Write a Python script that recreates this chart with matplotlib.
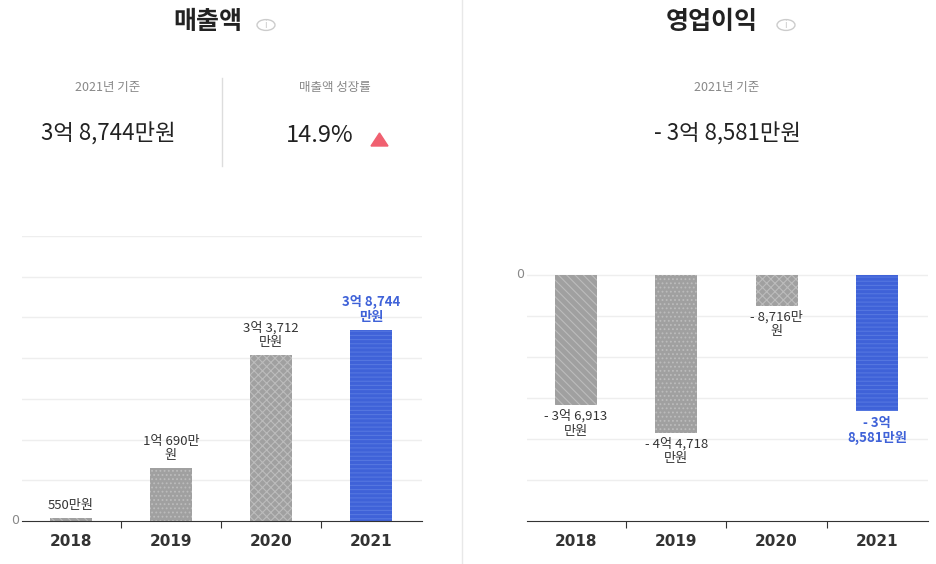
import matplotlib
matplotlib.use("Agg")
import matplotlib.pyplot as plt
from matplotlib.patches import Circle, Polygon
from matplotlib.lines import Line2D

plt.rcParams['font.family'] = ['Noto Sans CJK KR', 'Noto Sans CJK JP', 'Noto Sans CJK SC', 'DejaVu Sans']
plt.rcParams['hatch.linewidth'] = 0.8

years = ['2018', '2019', '2020', '2021']
sales = [550, 10690, 33712, 38744]
sales_labels = ['550만원', '1억 690만\n원', '3억 3,712\n만원', '3억 8,744\n만원']
profit = [-36913, -44718, -8716, -38581]
profit_labels = ['- 3억 6,913\n만원', '- 4억 4,718\n만원', '- 8,716만\n원', '- 3억\n8,581만원']
hatches = ['\\\\\\\\', '....', 'xxxx', '----']
grey = '#a0a0a0'
blue = '#3f62d8'

W, H = 936, 564
fig = plt.figure(figsize=(W/100, H/100), dpi=100)

def fx(x): return x / W
def fy(y): return 1 - y / H

def txt(x, y, s, **kw):
    fig.text(fx(x), fy(y), s, ha=kw.pop('ha', 'center'), va=kw.pop('va', 'center'), **kw)

txt(208, 22, '매출액', fontsize=18, fontweight='bold', color='#222222')
txt(712, 22, '영업이익', fontsize=18, fontweight='bold', color='#222222')
for cx in (266, 786):
    fig.patches.append(Circle((fx(cx), fy(25)), 9/W, transform=fig.transFigure,
                              fill=False, edgecolor='#cccccc', lw=1))
    txt(cx, 25, 'i', fontsize=7, color='#cccccc')

txt(108, 88, '2021년 기준', fontsize=9, color='#888888')
txt(108, 134, '3억 8,744만원', fontsize=16, color='#222222')
txt(335, 88, '매출액 성장률', fontsize=9, color='#888888')
txt(320, 136, '14.9%', fontsize=17, color='#222222')
fig.patches.append(Polygon([(fx(371), fy(146)), (fx(388), fy(146)), (fx(379.5), fy(133))],
                           closed=True, transform=fig.transFigure, color='#f06070'))
txt(727, 88, '2021년 기준', fontsize=9, color='#888888')
txt(727, 134, '- 3억 8,581만원', fontsize=16, color='#222222')

fig.lines.append(Line2D([fx(222), fx(222)], [fy(78), fy(166)], transform=fig.transFigure, color='#dddddd', lw=1))
fig.lines.append(Line2D([fx(462), fx(462)], [fy(0), fy(564)], transform=fig.transFigure, color='#e8e8e8', lw=1))

def setup(ax, ylim, ticks):
    ax.set_xlim(-0.49, 3.51)
    ax.set_ylim(*ylim)
    for s in ['top', 'right', 'left']:
        ax.spines[s].set_visible(False)
    ax.spines['bottom'].set_color('#333333')
    ax.set_yticks(ticks)
    ax.yaxis.grid(True, color='#eeeeee', lw=1)
    ax.set_axisbelow(True)
    ax.tick_params(axis='y', length=0, labelleft=False)
    ax.set_xticks([0.5, 1.5, 2.5])
    ax.tick_params(axis='x', length=5, color='#333333', labelbottom=False)
    for i, y in enumerate(years):
        ax.text(i, -0.045, y, transform=ax.get_xaxis_transform(), ha='center', va='top',
                fontsize=11, fontweight='bold', color='#333333', fontfamily='DejaVu Sans')

def draw_bars(ax, vals, labels, up):
    for i, v in enumerate(vals):
        isb = i == 3
        ax.bar(i, v, width=0.42, color=blue if isb else grey, hatch=hatches[i],
               edgecolor='#5577e0' if isb else '#bcbcbc', lw=0)
        off = 1200 if up else -1200
        ax.text(i, v + off, labels[i], ha='center', va='bottom' if up else 'top', fontsize=9.5,
                color=blue if isb else '#333333', fontweight='bold' if isb else 'normal', linespacing=1.15)
    ax.text(-0.52, 0, '0', ha='right', va='center', fontsize=9, color='#888888', fontfamily='DejaVu Sans')

ax1 = fig.add_axes([fx(22), fy(521), fx(400), (521-236)/H])
step = 8270
setup(ax1, (0, 7*step), [step*k for k in range(1, 8)])
draw_bars(ax1, sales, sales_labels, True)

ax2 = fig.add_axes([fx(527), fy(521), fx(401), (521-236)/H])
ps = 11600
setup(ax2, (-6*ps, ps * 39/41), [ps*k for k in range(-5, 1)])
draw_bars(ax2, profit, profit_labels, False)

fig.savefig('out.png', dpi=100)
